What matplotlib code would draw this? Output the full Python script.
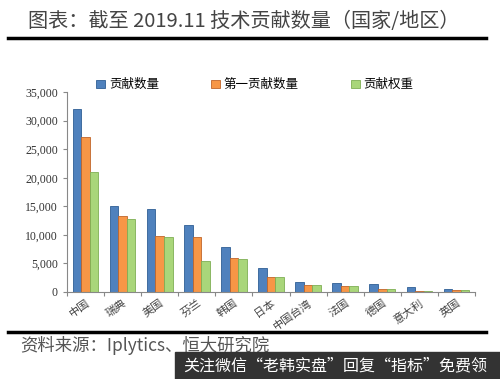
import matplotlib.pyplot as plt
import numpy as np
from matplotlib.ticker import FuncFormatter

plt.rcParams['font.family'] = ['Noto Sans CJK SC', 'DejaVu Sans']

# donnees
pays = ["中国", "瑞典", "美国", "芬兰", "韩国", "日本", "中国台湾", "法国", "德国", "意大利", "英国"]
gongxian = [32000, 15100, 14600, 11700, 7800, 4200, 1800, 1600, 1350, 900, 600]
diyi = [27100, 13300, 9800, 9700, 5900, 2700, 1200, 1050, 600, 200, 350]
quanzhong = [21000, 12800, 9700, 5400, 5800, 2700, 1200, 1050, 600, 200, 300]
series_names = ["贡献数量", "第一贡献数量", "贡献权重"]
colors = ["#4F81BD", "#F79646", "#A9D67A"]
edges = ["#2F5F95", "#C0652A", "#7FAF55"]

fig = plt.figure(figsize=(5, 3.79), dpi=100)
ax = fig.add_axes([0.134, 0.2296, 0.816, 0.5274])

x = np.arange(len(pays))
w = 0.23
for i, vals in enumerate([gongxian, diyi, quanzhong]):
	ax.bar(x + (i - 1) * w, vals, w, color=colors[i], edgecolor=edges[i], linewidth=0.6, label=series_names[i])

ax.set_xlim(-0.5, len(pays) - 0.5)
ax.set_ylim(0, 35000)
ax.set_yticks(np.arange(0, 35001, 5000))
ax.yaxis.set_major_formatter(FuncFormatter(lambda v, p: format(int(v), ',')))
for t in ax.get_yticklabels():
	t.set_fontfamily('Liberation Serif')
	t.set_fontsize(8.5)
	t.set_color('#333333')

ax.set_xticks(np.arange(-0.5, len(pays), 1))
ax.set_xticklabels([])
ax.set_xticks(x, minor=True)
ax.set_xticklabels(pays, minor=True, rotation=35, ha='right', rotation_mode='anchor', fontsize=8, color='#444444')
ax.tick_params(axis='x', which='minor', length=0, pad=4)
ax.tick_params(axis='x', which='major', length=3, color='#888888', direction='out')
ax.tick_params(axis='y', length=3, color='#888888', direction='out')

for s in ['top', 'right']:
	ax.spines[s].set_visible(False)
for s in ['left', 'bottom']:
	ax.spines[s].set_color('#888888')

fig.legend(loc='center', bbox_to_anchor=(0.51, 0.776), ncol=3, frameon=False, fontsize=9,
	handlelength=0.7, handleheight=0.7, columnspacing=4.2, handletextpad=0.3)

# titre et lignes
fig.text(0.056, 0.942, "图表：截至 2019.11 技术贡献数量（国家/地区）", fontsize=14.5, color='#444444', va='center', ha='left')
fig.add_artist(plt.Line2D([0.016, 0.972], [0.9, 0.9], color='black', linewidth=2.5))
fig.add_artist(plt.Line2D([0.016, 0.972], [0.124, 0.124], color='black', linewidth=2.5))
fig.text(0.04, 0.088, "资料来源：Iplytics、恒大研究院", fontsize=12.5, color='#555555', style='italic', va='center', ha='left')

# bandeau en bas
fig.patches.append(plt.Rectangle((0.35, 0.0), 0.65, 0.072, transform=fig.transFigure, color='#333333', zorder=5))
fig.text(0.366, 0.036, "关注微信“老韩实盘”回复“指标”免费领", fontsize=11.5, color='white', va='center', ha='left', zorder=6)

fig.savefig("out.png", dpi=100)
